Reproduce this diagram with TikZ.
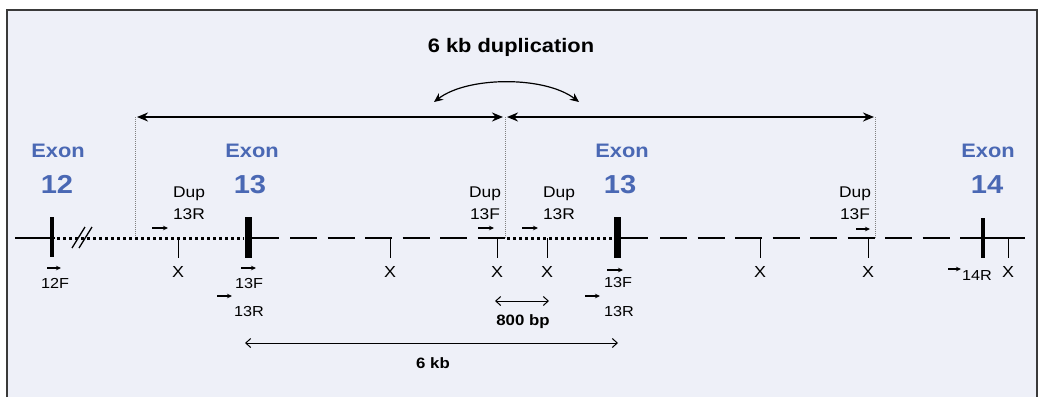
\documentclass[tikz,border=0pt]{standalone}
\usepackage{fontspec}
\setmainfont{Liberation Sans}[FakeStretch=1.12]
\usetikzlibrary{arrows.meta}
\definecolor{bgc}{HTML}{EEF0F8}
\definecolor{exonblue}{HTML}{4A68B4}
\definecolor{framec}{HTML}{3A3A3A}
\tikzset{
  solidbb/.style={line width=2.6pt, line cap=butt},
  dotbb/.style={line width=3pt, dash pattern=on 3pt off 3pt},
  dashbb/.style={line width=2.6pt, dash pattern=on 27pt off 10.5pt},
  guide/.style={line width=0.6pt, gray, dash pattern=on 1pt off 1pt},
  thickexon/.style={line width=7pt},
  thinexon/.style={line width=4pt},
  tickline/.style={line width=1pt},
  primer/.style={-{Stealth[length=5pt,width=4.5pt]}, line width=1.1pt},
  spanarrow/.style={{Stealth[length=11pt,width=9pt]}-{Stealth[length=11pt,width=9pt]}, line width=2pt},
  swaparrow/.style={{Stealth[length=9pt,width=8pt]}-{Stealth[length=9pt,width=8pt]}, line width=1.2pt},
  dimarrow/.style={{Straight Barb[length=5pt,width=9pt]}-{Straight Barb[length=5pt,width=9pt]}, line width=1pt},
  exonlbl/.style={anchor=base, inner sep=0pt, text=exonblue, font=\fontsize{19.5}{22}\selectfont\bfseries},
  exonnum/.style={anchor=base, inner sep=0pt, text=exonblue, font=\fontsize{26}{30}\selectfont\bfseries},
  lbl/.style={anchor=base, inner sep=0pt, font=\fontsize{15.5}{17}\selectfont},
  plbl/.style={anchor=base, inner sep=0pt, font=\fontsize{14.5}{16}\selectfont},
  xlbl/.style={anchor=base, inner sep=0pt, font=\fontsize{16}{18}\selectfont},
  boldlbl/.style={anchor=base, inner sep=0pt, font=\fontsize{15}{17}\selectfont\bfseries},
}
\begin{document}
\begin{tikzpicture}[x=1pt,y=-1pt]
\useasboundingbox (0,0) rectangle (1040,397);
% background and frame
\fill[white] (0,0) rectangle (1040,397);
\fill[bgc] (7,10) rectangle (1037,397);
\draw[framec, line width=1.6pt] (7,397) -- (7,10) -- (1037,10) -- (1037,397);

% title
\node[anchor=base, inner sep=0pt, font=\fontsize{19.5}{22}\selectfont\bfseries] (title) at (511,52) {6 kb duplication};

% guide coordinates
\coordinate (gA) at (135,117);
\coordinate (gB) at (505,117);
\coordinate (gC) at (875,117);
\coordinate (gAb) at (135,238);
\coordinate (gBb) at (505,238);
\coordinate (gCb) at (875,238);
\draw[guide] (gA) -- (gAb);
\draw[guide] (gB) -- (gBb);
\draw[guide] (gC) -- (gCb);

% duplication span arrows
\draw[spanarrow] (137,117) -- (503,117);
\draw[spanarrow] (507,117) -- (874,117);
\coordinate (swL) at (434,102);
\coordinate (swR) at (579,102);
\draw[swaparrow] (swL) .. controls (468,76) and (545,76) .. (swR);

% backbone
\draw[solidbb] (15,238) -- (55,238);
\draw[dotbb] (57,238) -- (244,238);
\draw[solidbb] (248,238) -- (279,238);
\draw[dashbb] (290,238) -- (505,238);
\draw[dotbb] (507,238) -- (613,238);
\draw[solidbb] (617,238) -- (648,238);
\draw[dashbb] (660,238) -- (951,238);
\draw[solidbb] (960,238) -- (1025,238);
% break marks
\draw[line width=1.3pt] (72,248) -- (85,227);
\draw[line width=1.3pt] (79,248) -- (92,227);

% exons
\coordinate (e12) at (52,238);
\coordinate (e13a) at (248,238);
\coordinate (e13b) at (617,238);
\coordinate (e14) at (983,238);
\draw[thinexon] (52,217) -- (52,257);
\draw[thickexon] (248,217) -- (248,258);
\draw[thickexon] (617,217) -- (617,258);
\draw[thinexon] (983,218) -- (983,258);

% exon labels
\node[exonlbl] (ex12) at (58,157) {Exon};
\node[exonnum] (n12) at (57,193) {12};
\node[exonlbl] (ex13a) at (252,157) {Exon};
\node[exonnum] (n13a) at (250,193) {13};
\node[exonlbl] (ex13b) at (622,157) {Exon};
\node[exonnum] (n13b) at (620,193) {13};
\node[exonlbl] (ex14) at (988,157) {Exon};
\node[exonnum] (n14) at (987,193) {14};

% ticks with X
\foreach \xx/\nm in {178/x1, 390/x2, 497/x3, 547/x4, 760/x5, 868/x6, 1008/x7}{
  \draw[tickline] (\xx,238) -- (\xx,258);
  \node[xlbl] (\nm) at (\xx,277) {X};
}

% Dup primer labels
\node[lbl] (d1a) at (189,197) {Dup};
\node[lbl] (d1b) at (189,219) {13R};
\draw[primer] (152,228) -- (168,228);
\node[lbl] (d2a) at (485,197) {Dup};
\node[lbl] (d2b) at (485,219) {13F};
\draw[primer] (478,228) -- (494,228);
\node[lbl] (d3a) at (559,197) {Dup};
\node[lbl] (d3b) at (559,219) {13R};
\draw[primer] (522,228) -- (538,228);
\node[lbl] (d4a) at (855,197) {Dup};
\node[lbl] (d4b) at (855,219) {13F};
\draw[primer] (856,229) -- (870,229);

% exon primers
\node[plbl] (p12F) at (55,288) {12F};
\draw[primer] (47,268) -- (61,268);
\node[plbl] (p13Fa) at (249,288) {13F};
\draw[primer] (241,268) -- (256,268);
\draw[primer] (217,296) -- (232,296);
\node[plbl] (p13Ra) at (249,316) {13R};
\node[plbl] (p13Fb) at (618,287) {13F};
\draw[primer] (607,270) -- (623,270);
\draw[primer] (585,296) -- (600,296);
\node[plbl] (p13Rb) at (619,316) {13R};
\draw[primer] (948,269) -- (961,269);
\node[plbl] (p14R) at (977,280) {14R};

% dimension arrows
\draw[dimarrow] (495,301) -- (549,301);
\node[boldlbl] (bp800) at (523,325) {800 bp};
\draw[dimarrow] (245,343) -- (618,343);
\node[boldlbl] (kb6) at (433,368) {6 kb};
\end{tikzpicture}
\end{document}
